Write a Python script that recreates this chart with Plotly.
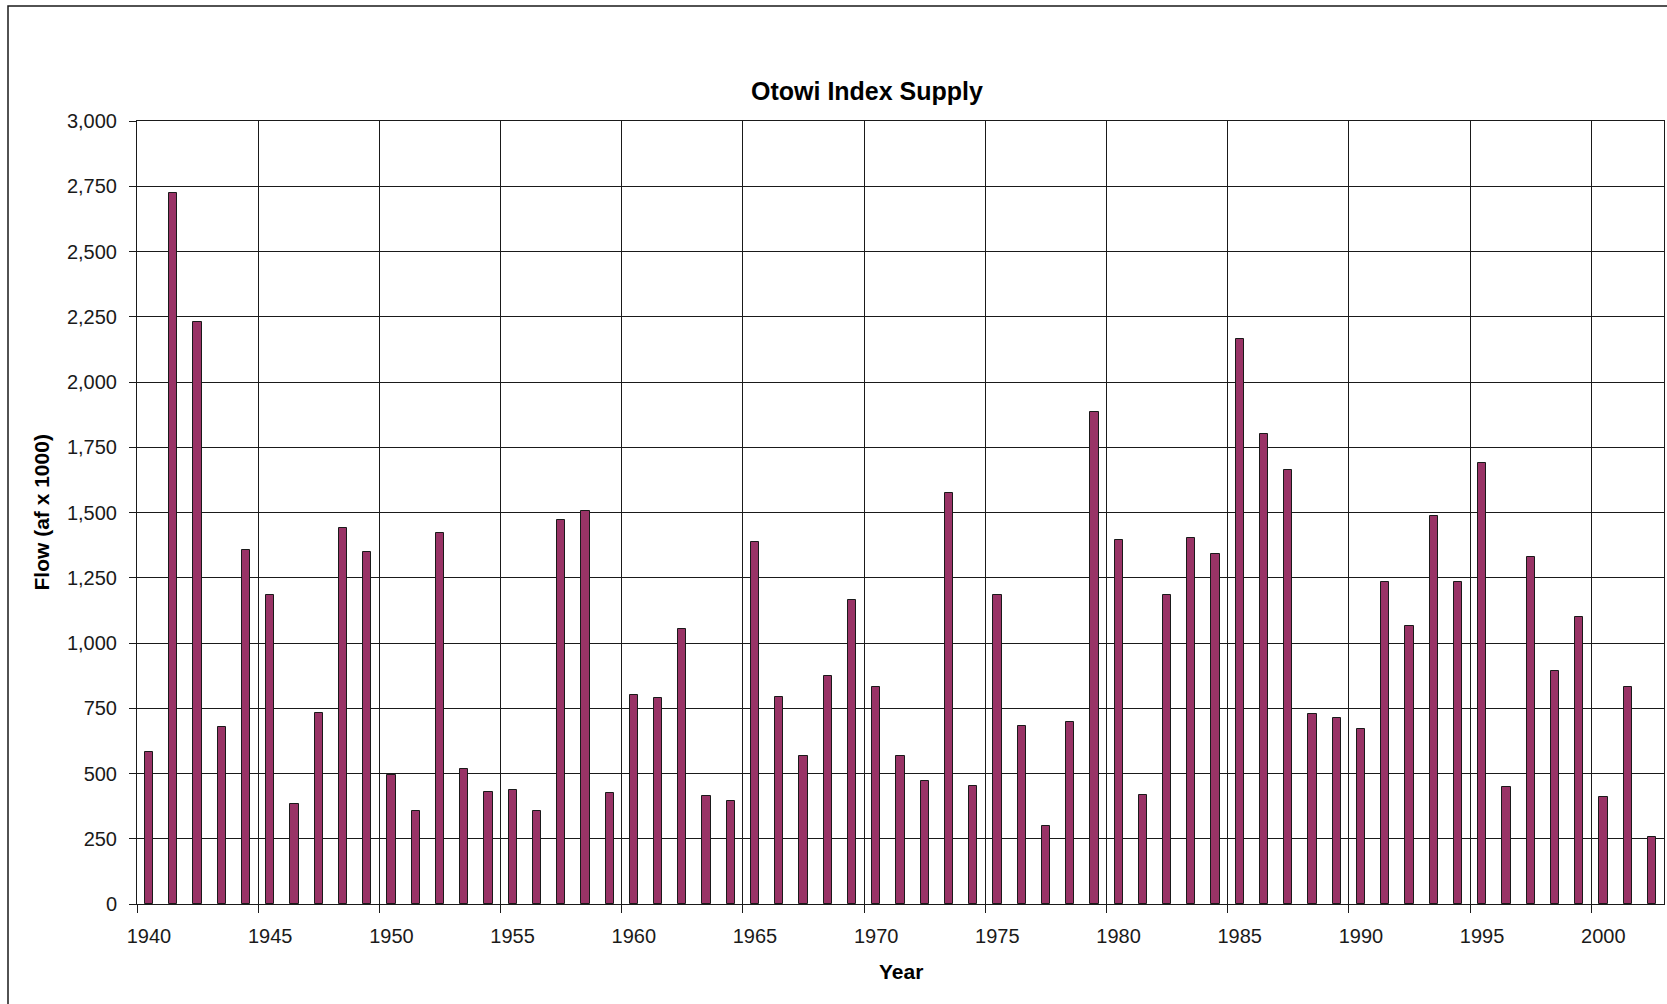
import plotly.graph_objects as go

years = list(range(1940, 2003))
flows = [582, 2725, 2230, 680, 1356, 1184, 384, 733, 1439, 1347,
         495, 358, 1423, 519, 431, 436, 358, 1472, 1507, 426,
         800, 789, 1053, 415, 395, 1386, 795, 567, 873, 1164,
         832, 567, 473, 1575, 452, 1185, 681, 297, 696, 1886,
         1393, 416, 1185, 1403, 1340, 2163, 1802, 1663, 727, 712,
         671, 1235, 1065, 1486, 1235, 1689, 447, 1329, 894, 1101,
         410, 832, 255]
x_tick_labels = ["1940", "1945", "1950", "1955", "1960", "1965", "1970",
                 "1975", "1980", "1985", "1990", "1995", "2000"]
y_ticks = [0, 250, 500, 750, 1000, 1250, 1500, 1750, 2000, 2250, 2500, 2750, 3000]

title_text = "Otowi Index Supply"
x_title = "Year"
y_title = "Flow (af x 1000)"

W, H = 1667, 1004
L, R, T, B = 137, 3, 121, 100
pw, ph = W - L - R, H - T - B

FONT = "Liberation Sans, Arial, sans-serif"

fig = go.Figure()
fig.add_trace(go.Bar(
    x=years, y=flows, width=0.34,
    marker=dict(color="#993366", line=dict(color="#1a1a1a", width=1)),
    showlegend=False,
))

x_grid = [int(t) - 0.5 for t in x_tick_labels]

fig.update_layout(
    width=W, height=H,
    margin=dict(l=L, r=R, t=T, b=B),
    paper_bgcolor="white", plot_bgcolor="white",
    font=dict(family=FONT, color="#000000"),
    bargap=0,
    xaxis=dict(
        range=[1939.5, 2002.5], tickmode="array", tickvals=x_grid,
        ticktext=x_tick_labels, ticklabelshift=12,
        showgrid=True, gridcolor="#1a1a1a", gridwidth=1,
        ticks="outside", ticklen=8, tickcolor="#1a1a1a", tickwidth=1,
        showline=True, linecolor="#1a1a1a", linewidth=1, mirror=True,
        tickfont=dict(size=20, family=FONT, color="#1a1a1a"),
        ticklabelstandoff=6, zeroline=False,
    ),
    yaxis=dict(
        range=[0, 3000], tickmode="array", tickvals=y_ticks,
        tickformat=",d",
        showgrid=True, gridcolor="#1a1a1a", gridwidth=1,
        ticks="outside", ticklen=7, tickcolor="#1a1a1a", tickwidth=1,
        showline=True, linecolor="#1a1a1a", linewidth=1, mirror=True,
        tickfont=dict(size=20, family=FONT, color="#1a1a1a"),
        ticklabelstandoff=8, zeroline=False,
    ),
    annotations=[
        dict(text="<b>%s</b>" % title_text, xref="paper", yref="paper",
             x=(867 - L) / pw, y=1 + (T - 91) / ph, xanchor="center", yanchor="middle",
             showarrow=False, font=dict(size=25, family=FONT, color="#000000")),
        dict(text="<b>%s</b>" % x_title, xref="paper", yref="paper",
             x=0.5, y=-(972 - (T + ph)) / ph, xanchor="center", yanchor="middle",
             showarrow=False, font=dict(size=21, family=FONT, color="#000000")),
        dict(text="<b>%s</b>" % y_title, xref="paper", yref="paper",
             x=(41 - L) / pw, y=0.5, xanchor="center", yanchor="middle", textangle=-90,
             showarrow=False, font=dict(size=21, family=FONT, color="#000000")),
    ],
    shapes=[
        dict(type="rect", xref="paper", yref="paper",
             x0=(8 - L) / pw, x1=1 + 20 / pw, y0=-(H + 20 - (T + ph)) / ph, y1=1 + (T - 6) / ph,
             line=dict(color="#1a1a1a", width=1.5), fillcolor="rgba(0,0,0,0)", layer="below"),
    ],
)

fig.write_html(
    "out.html",
    config={"displayModeBar": False},
    post_script="document.body.style.margin='0px';document.body.style.overflow='hidden';",
)
